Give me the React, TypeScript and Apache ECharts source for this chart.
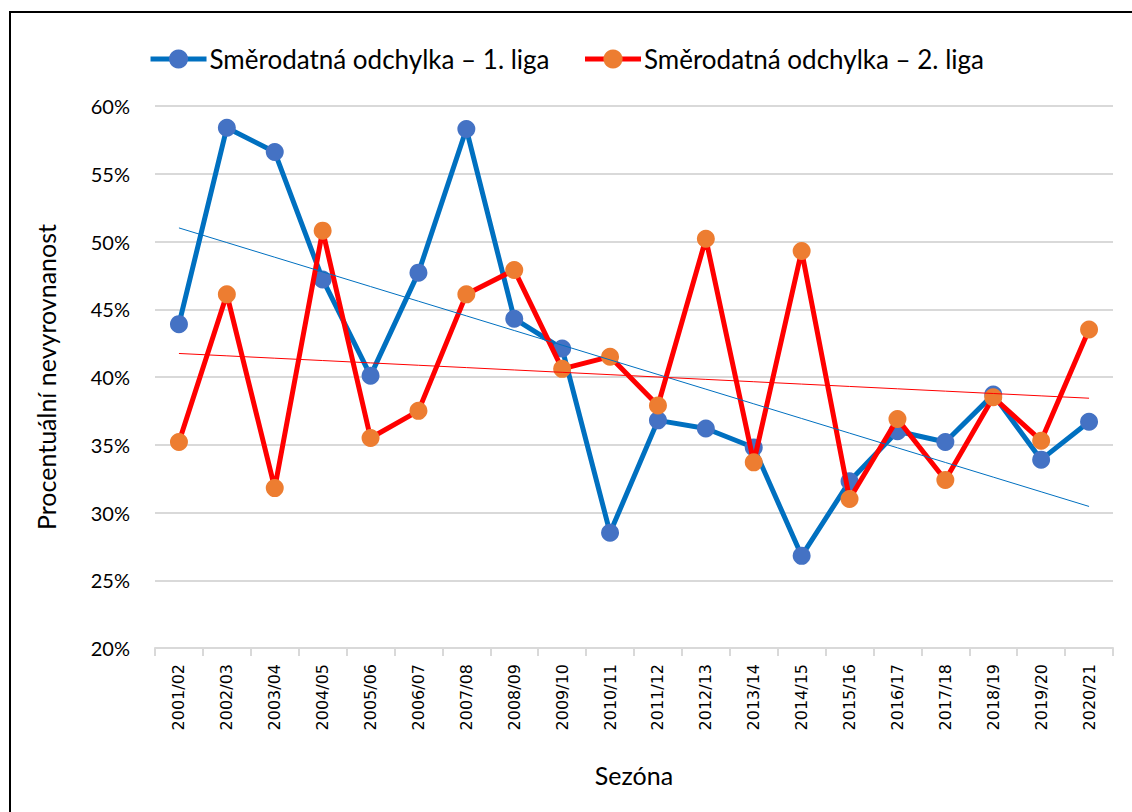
import React, { useEffect, useRef } from "react";
import * as echarts from "echarts";

const seasons = [
  "2001/02", "2002/03", "2003/04", "2004/05", "2005/06", "2006/07", "2007/08",
  "2008/09", "2009/10", "2010/11", "2011/12", "2012/13", "2013/14", "2014/15",
  "2015/16", "2016/17", "2017/18", "2018/19", "2019/20", "2020/21",
];

const liga1 = [
  43.9, 58.4, 56.6, 47.2, 40.1, 47.7, 58.3, 44.3, 42.1, 28.5,
  36.8, 36.2, 34.8, 26.8, 32.3, 36.0, 35.2, 38.7, 33.9, 36.7,
];

const liga2 = [
  35.2, 46.1, 31.8, 50.8, 35.5, 37.5, 46.1, 47.9, 40.6, 41.5,
  37.9, 50.2, 33.7, 49.3, 31.0, 36.9, 32.4, 38.5, 35.3, 43.5,
];

const name1 = "Směrodatná odchylka – 1. liga";
const name2 = "Směrodatná odchylka – 2. liga";

function trend(vals: number[]): number[] {
  const n = vals.length;
  const xs = vals.map((_, i) => i + 1);
  const mx = xs.reduce((a, b) => a + b, 0) / n;
  const my = vals.reduce((a, b) => a + b, 0) / n;
  let num = 0;
  let den = 0;
  for (let i = 0; i < n; i++) {
    num += (xs[i] - mx) * (vals[i] - my);
    den += (xs[i] - mx) * (xs[i] - mx);
  }
  const b = num / den;
  const a = my - b * mx;
  return xs.map((x) => a + b * x);
}

export default function App() {
  const ref = useRef<HTMLDivElement>(null);
  useEffect(() => {
    document.body.style.margin = "0";
    const chart = echarts.init(ref.current!, undefined, { renderer: "svg" });
    const font = "Lato, 'Noto Sans', sans-serif";
    chart.setOption({
      animation: false,
      backgroundColor: "#ffffff",
      graphic: [
        {
          type: "rect",
          shape: { x: 10, y: 12, width: 1140, height: 820 },
          style: { fill: "none", stroke: "#000000", lineWidth: 2 },
          z: 100,
        },
      ],
      legend: {
        top: 41,
        left: "center",
        itemWidth: 56,
        itemHeight: 24,
        itemGap: 33,
        lineStyle: { width: 5 },
        textStyle: { fontFamily: font, fontSize: 26, color: "#000000", padding: [0, 0, 0, -2] },
        data: [name1, name2],
      },
      grid: { left: 155, right: 19, top: 106, bottom: 164 },
      xAxis: {
        type: "category",
        data: seasons,
        boundaryGap: true,
        name: "Sezóna",
        nameLocation: "middle",
        nameGap: 114,
        nameTextStyle: { fontFamily: font, fontSize: 25, color: "#000000" },
        axisLine: { lineStyle: { color: "#d9d9d9", width: 2 } },
        axisTick: { show: true, length: 8, lineStyle: { color: "#d9d9d9", width: 2 } },
        axisLabel: {
          rotate: 90,
          margin: 16,
          fontFamily: "'DejaVu Sans', sans-serif",
          fontSize: 16,
          color: "#000000",
        },
      },
      yAxis: {
        type: "value",
        min: 20,
        max: 60,
        interval: 5,
        name: "Procentuální nevyrovnanost",
        nameLocation: "middle",
        nameGap: 97,
        nameTextStyle: { fontFamily: font, fontSize: 25, color: "#000000" },
        axisLine: { show: false },
        axisTick: { show: false },
        axisLabel: {
          margin: 25,
          formatter: "{value}%",
          fontFamily: font,
          fontSize: 20,
          color: "#000000",
        },
        splitLine: { lineStyle: { color: "#d9d9d9", width: 2 } },
      },
      series: [
        {
          name: name1,
          type: "line",
          data: liga1,
          symbol: "circle",
          symbolSize: 18,
          lineStyle: { color: "#0070C0", width: 5 },
          itemStyle: { color: "#4472C4" },
          z: 2,
        },
        {
          name: name2,
          type: "line",
          data: liga2,
          symbol: "circle",
          symbolSize: 18,
          lineStyle: { color: "#FF0000", width: 5 },
          itemStyle: { color: "#ED7D31" },
          z: 3,
        },
        {
          name: "trend1",
          type: "line",
          data: trend(liga1),
          showSymbol: false,
          symbol: "none",
          lineStyle: { color: "#0070C0", width: 1 },
          z: 4,
        },
        {
          name: "trend2",
          type: "line",
          data: trend(liga2),
          showSymbol: false,
          symbol: "none",
          lineStyle: { color: "#FF0000", width: 1 },
          z: 4,
        },
      ],
    });
    return () => chart.dispose();
  }, []);
  return <div ref={ref} style={{ width: 1132, height: 812 }} />;
}
